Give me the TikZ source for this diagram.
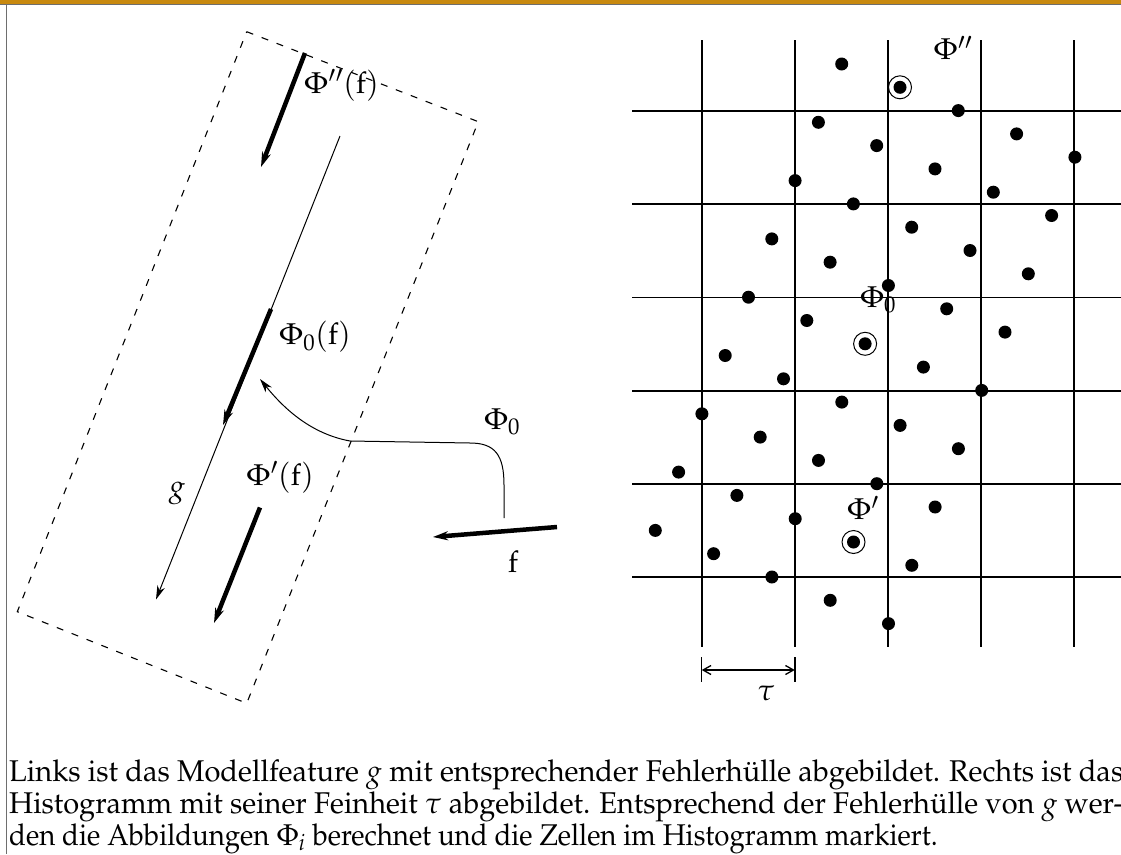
\documentclass[tikz,border=0pt]{standalone}
\usepackage[T1]{fontenc}
\usepackage{mathpazo}
\usetikzlibrary{arrows.meta}
\definecolor{barOrange}{HTML}{C8890F}
\definecolor{frameGray}{HTML}{6E6E6E}
\newcommand{\capfont}{\fontsize{30}{32.5}\selectfont}
\tikzset{
  envelope/.style={dash pattern=on 7pt off 9pt, line width=1.1pt},
  fatarrow/.style={line width=4.5pt, -{Stealth[length=15pt,width=9pt]}},
  thinarrow/.style={line width=1pt, -{Stealth[length=14pt,width=8pt]}},
  dimarrow/.style={line width=1.3pt, {Straight Barb[length=8pt,width=9pt]}-{Straight Barb[length=8pt,width=9pt]}},
  gridline/.style={line width=1.8pt},
  dot/.style={circle, fill, inner sep=0pt, minimum size=13pt},
  ring/.style={circle, draw, line width=1pt, inner sep=0pt, minimum size=23pt},
  lbl/.style={font=\fontsize{30}{34}\selectfont, inner sep=0pt},
  captxt/.style={anchor=base west, inner sep=0pt, font=\capfont},
}

\begin{document}
\begin{tikzpicture}[x=1pt, y=-1pt]
  \useasboundingbox (0,0) rectangle (1121,854);
  \clip (0,0) rectangle (1121,854);

  % frame of the page
  \fill[barOrange] (0,0) rectangle (1121,3.6);
  \draw[frameGray, line width=1.2pt] (0,4.4) -- (1121,4.4);
  \draw[frameGray, line width=1.4pt] (6.5,4.4) -- (6.5,854);

  % Left: model feature g and its error envelope
  \coordinate (envTL) at (246.7,31.7);
  \coordinate (envTR) at (478.3,121.7);
  \coordinate (envBR) at (246.7,703.3);
  \coordinate (envBL) at (17.3,611.7);
  \draw[envelope] (envTL) -- (envTR) -- (envBR) -- (envBL) -- cycle;

  \coordinate (gS) at (340,136);
  \coordinate (gE) at (156,599.5);
  \draw[thinarrow] (gS) -- (gE);

  \coordinate (ppS) at (305,53);
  \coordinate (ppE) at (261,167);
  \coordinate (p0S) at (271,309);
  \coordinate (p0E) at (223,425);
  \coordinate (pS) at (260,507.5);
  \coordinate (pE) at (214,623);
  \coordinate (fS) at (557,527);
  \coordinate (fE) at (433,537);
  \draw[fatarrow] (ppS) -- (ppE);
  \draw[fatarrow] (p0S) -- (p0E);
  \draw[fatarrow] (pS) -- (pE);
  \draw[fatarrow] (fS) -- (fE);

  % mapping Phi_0 from f onto g
  \coordinate (mapS) at (504,518);
  \coordinate (mapE) at (260,379);
  \draw[thinarrow] (mapS) -- (504,485) .. controls (504,455) and (495,443) .. (470,443)
    -- (350,441) .. controls (312,434) and (285,410) .. (mapE);

  \node[lbl] (lblPhiPP) at (341.5,85)  {$\Phi''(\mathrm{f})$};
  \node[lbl] (lblPhi0f) at (315,337)   {$\Phi_0(\mathrm{f})$};
  \node[lbl] (lblPhiPf) at (280,477)   {$\Phi'(\mathrm{f})$};
  \node[lbl] (lblg)     at (177,493)   {$g$};
  \node[lbl] (lblPhi0)  at (502,422)   {$\Phi_0$};
  \node[lbl] (lblf)     at (513,562)   {$\mathrm{f}$};

  % Right: histogram with cell size tau
  \foreach \x in {701.7,794.8,887.9,981,1074.1}
    \draw[gridline] (\x,40) -- (\x,647);
  \foreach \y in {111,204.25,297.5,390.75,484,577.25}
    \draw[gridline] (632,\y) -- (1130,\y);

  \foreach \i in {0,...,8}
    \foreach \j in {0,...,4}
      \node[dot] (d-\i-\j) at ({841.7-23.3*\i+58.3*\j}, {64+58.3*\i+23.3*\j}) {};
  \node[ring] (mPP) at (d-0-1) {};
  \node[ring] (m0)  at (d-4-2) {};
  \node[ring] (mP)  at (d-7-3) {};

  \node[lbl] (hPhiPP) at (953,48)  {$\Phi''$};
  \node[lbl] (hPhi0)  at (878,300) {$\Phi_0$};
  \node[lbl] (hPhiP)  at (863,508) {$\Phi'$};

  % cell size
  \coordinate (tauL) at (701.7,670);
  \coordinate (tauR) at (794.8,670);
  \draw[line width=1.5pt] (701.7,657) -- (701.7,682);
  \draw[line width=1.5pt] (794.8,657) -- (794.8,682);
  \draw[dimarrow] (tauL) -- (tauR);
  \node[lbl] (lbltau) at (766,693) {$\tau$};

  % caption
  \node[captxt] (cap1) at (9,781) {\resizebox{1114pt}{\height}{Links ist das Modellfeature $g$ mit entsprechender Fehlerh\"ulle abgebildet. Rechts ist das}};
  \node[captxt] (cap2) at (9,813) {\resizebox{1114pt}{\height}{Histogramm mit seiner Feinheit $\tau$ abgebildet. Entsprechend der Fehlerh\"ulle von $g$ wer-}};
  \node[captxt] (cap3) at (9,845) {\scalebox{0.92}[1]{den die Abbildungen $\Phi_i$ berechnet und die Zellen im Histogramm markiert.}};
\end{tikzpicture}
\end{document}
